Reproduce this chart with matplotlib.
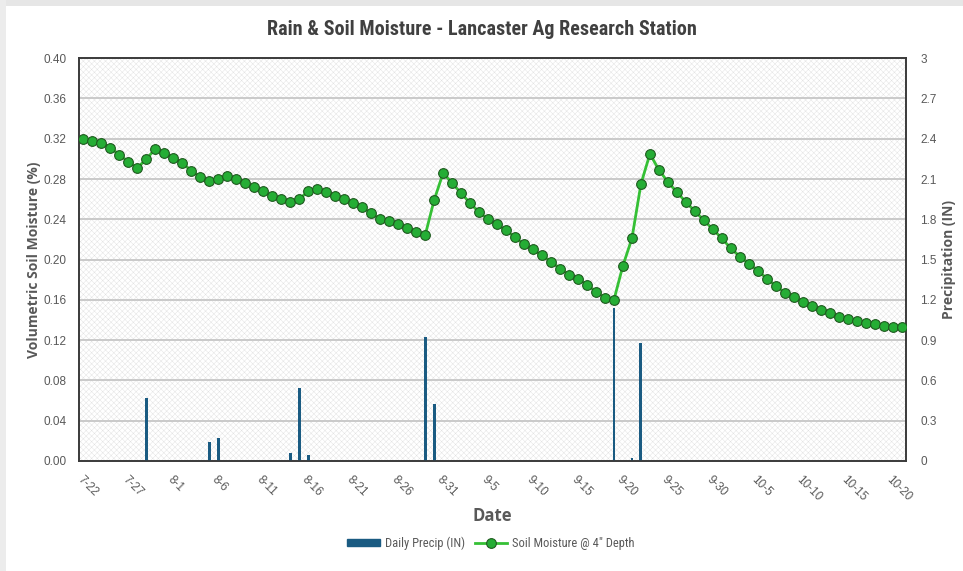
import matplotlib
matplotlib.use("Agg")
import matplotlib.pyplot as plt
import pandas as pd
from matplotlib.lines import Line2D
from matplotlib.patches import Patch, Rectangle

# daily observations, 7-22 through 10-21
start_date = "2024-07-22"
n_days = 92
soil_moisture = [
    0.320, 0.318, 0.316, 0.311, 0.304, 0.297, 0.291, 0.300, 0.310, 0.306,
    0.301, 0.296, 0.288, 0.282, 0.278, 0.280, 0.283, 0.280, 0.276, 0.272,
    0.268, 0.263, 0.260, 0.257, 0.260, 0.268, 0.270, 0.267, 0.263, 0.260,
    0.256, 0.252, 0.246, 0.240, 0.238, 0.235, 0.231, 0.227, 0.224, 0.259,
    0.286, 0.276, 0.266, 0.256, 0.247, 0.240, 0.235, 0.229, 0.222, 0.215,
    0.210, 0.204, 0.198, 0.191, 0.185, 0.181, 0.175, 0.168, 0.162, 0.160,
    0.194, 0.221, 0.275, 0.305, 0.289, 0.277, 0.267, 0.257, 0.248, 0.239,
    0.230, 0.221, 0.211, 0.203, 0.196, 0.189, 0.181, 0.174, 0.167, 0.163,
    0.158, 0.154, 0.150, 0.147, 0.143, 0.141, 0.139, 0.137, 0.136, 0.134,
    0.133, 0.133,
]
rain_dates = ["7-29", "8-5", "8-6", "8-14", "8-15", "8-16", "8-29", "8-30",
              "9-19", "9-21", "9-22"]
rain_inches = [0.47, 0.14, 0.17, 0.06, 0.54, 0.04, 0.92, 0.42, 1.14, 0.02, 0.88]

left_ticks = [0.00, 0.04, 0.08, 0.12, 0.16, 0.20, 0.24, 0.28, 0.32, 0.36, 0.40]
right_ticks = [0, 0.3, 0.6, 0.9, 1.2, 1.5, 1.8, 2.1, 2.4, 2.7, 3]
right_labels = ["0", "0.3", "0.6", "0.9", "1.2", "1.5", "1.8", "2.1", "2.4", "2.7", "3"]

dates = pd.date_range(start_date, periods=n_days, freq="D")
labels = [f"{d.month}-{d.day}" for d in dates]
pos = {lab: i for i, lab in enumerate(labels)}
x = list(range(n_days))
rain_x = [pos[d] for d in rain_dates]

text_grey = "#595959"
bar_blue = "#1a5b82"
line_green = "#35c035"
label_font = ["Open Sans", "DejaVu Sans"]
narrow_font = ["Roboto Condensed", "Roboto", "DejaVu Sans"]
plt.rcParams["font.family"] = ["Liberation Sans", "DejaVu Sans"]
plt.rcParams["hatch.linewidth"] = 0.3

fig = plt.figure(figsize=(9.63, 5.71), dpi=100)
fig.patch.set_facecolor("white")
# light grey strip along top and left edge, as in the screenshot
fig.patches.append(Rectangle((0, 0.99), 1, 0.01, transform=fig.transFigure,
                             facecolor="#e6e6e6", lw=0))
fig.patches.append(Rectangle((0, 0), 0.006, 1, transform=fig.transFigure,
                             facecolor="#ececec", lw=0))

ax = fig.add_axes([0.082, 0.193, 0.859, 0.705])
ax2 = ax.twinx()
ax.set_zorder(ax2.get_zorder() + 1)
ax.patch.set_visible(False)

# background with fine crosshatch
ax2.set_facecolor("#efefef")
ax2.add_patch(Rectangle((0, 0), 1, 1, transform=ax2.transAxes, facecolor="none",
                        edgecolor="#e0e0e0", hatch="xxxxxx", lw=0, zorder=0))

ax2.bar(rain_x, rain_inches, width=0.32, color=bar_blue, zorder=3)
ax.plot(x, soil_moisture, color=line_green, lw=2.0, marker="o", ms=7,
        mfc="#25ad35", mec="#1f5a1f", mew=0.8, zorder=4)

ax.set_xlim(-0.5, n_days - 0.5)
ax.set_ylim(0, 0.40)
ax2.set_ylim(0, 3)
ax.set_yticks(left_ticks)
ax.set_yticklabels([f"{v:.2f}" for v in left_ticks])
ax2.set_yticks(right_ticks)
ax2.set_yticklabels(right_labels)
for t in right_ticks[1:-1]:
    ax2.axhline(t, color="#c6c6c6", lw=1.3, zorder=1)

ax.set_xticks(x[::5])
ax.set_xticklabels(labels[::5], rotation=-45, ha="left", va="top",
                   rotation_mode="anchor")

for a in (ax, ax2):
    a.tick_params(length=0, colors=text_grey, labelsize=8.5)
    for s in a.spines.values():
        s.set_color("#3a3a3a")
        s.set_linewidth(1.2)
ax.tick_params(axis="y", pad=9)
ax.tick_params(axis="x", pad=9)
ax2.tick_params(axis="y", pad=10)

ax.set_ylabel("Volumetric Soil Moisture (%)", fontsize=10, fontweight="bold",
              color=text_grey, family=label_font, labelpad=2)
ax2.set_ylabel("Precipitation (IN)", fontsize=10, fontweight="bold",
               color=text_grey, family=label_font, labelpad=4)
ax.set_xlabel("Date", fontsize=12, fontweight="bold", color=text_grey,
              family=label_font, labelpad=3)

fig.suptitle("Rain & Soil Moisture - Lancaster Ag Research Station", y=0.965,
             fontsize=14.5, fontweight="bold", color="#404040", family=narrow_font)

handles = [
    Patch(facecolor=bar_blue, edgecolor=bar_blue),
    Line2D([], [], color=line_green, lw=2.0, marker="o", ms=7,
           mfc="#25ad35", mec="#1f5a1f", mew=0.8),
]
fig.legend(handles, ["Daily Precip (IN)", "Soil Moisture @ 4\" Depth"],
           loc="center", bbox_to_anchor=(0.51, 0.048), ncol=2, frameon=False,
           prop={"family": narrow_font, "size": 9}, labelcolor=text_grey,
           handlelength=2.6, handleheight=0.5, columnspacing=0.8,
           handletextpad=0.4)

fig.savefig("out.png", dpi=100)
